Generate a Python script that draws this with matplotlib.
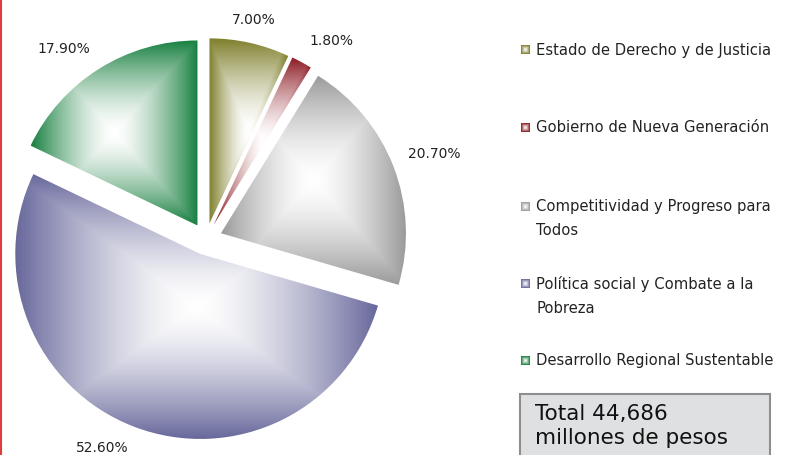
import numpy as np
import matplotlib
matplotlib.use('Agg')
import matplotlib.pyplot as plt
from matplotlib.colors import to_rgb
from matplotlib.patches import Rectangle

categories = [
    'Estado de Derecho y de Justicia',
    'Gobierno de Nueva Generación',
    'Competitividad y Progreso para\nTodos',
    'Política social y Combate a la\nPobreza',
    'Desarrollo Regional Sustentable',
]
values = [7.0, 1.8, 20.7, 52.6, 17.9]
colors = ['#7f7f2c', '#8c1a22', '#9a9a9a', '#68689c', '#188040']
total_text = 'Total 44,686\nmillones de pesos'

W, H = 795, 455


def gradient_image(base, n=200, power=1.5):
    # rectangular "path" gradient: white in the middle, base colour at the edges
    g = np.linspace(-1, 1, n)
    u, v = np.meshgrid(g, g)
    t = np.maximum(np.abs(u), np.abs(v)) ** power
    c = np.array(to_rgb(base))
    img = 1 - t[..., None] * (1 - c[None, None, :])
    return img


fig = plt.figure(figsize=(W / 100, H / 100), dpi=100)
ax = fig.add_axes([0, 0, 1, 1])

wedges, texts, autotexts = ax.pie(
    values,
    explode=[16] * len(values),
    center=(206, 216),
    radius=185,
    startangle=90,
    counterclock=False,
    colors=colors,
    autopct='%.2f%%',
    pctdistance=1.085,
    frame=True,
    wedgeprops=dict(linewidth=0),
    textprops=dict(fontsize=10, color='#222222'),
)

for w, col in zip(wedges, colors):
    ext = w.get_path().get_extents()
    im = ax.imshow(gradient_image(col), extent=(ext.x0, ext.x1, ext.y0, ext.y1),
                   origin='lower', interpolation='bilinear', zorder=w.get_zorder())
    im.set_clip_path(w)
    w.set_facecolor('none')

# outside-end labels: anchor the box corner nearest to the slice
for w, t in zip(wedges, autotexts):
    x, y = t.get_position()
    cx, cy = w.center
    ang = np.arctan2(y - cy, x - cx)
    c, s = np.cos(ang), np.sin(ang)
    t.set_ha('left' if c > 0.3 else ('right' if c < -0.3 else 'center'))
    t.set_va('bottom' if s > 0.3 else ('top' if s < -0.3 else 'center'))

# legend drawn by hand
leg_y = [405, 327, 248, 171, 94]
for label, col, ly in zip(categories, colors, leg_y):
    ax.imshow(gradient_image(col, n=20, power=1.2), extent=(520.5, 529, ly - 4.5, ly + 4),
              origin='lower', interpolation='bilinear')
    ax.text(536, ly + 7.5, label, fontsize=10.6, color='#222222', ha='left', va='top',
            linespacing=1.7)

# total box
ax.add_patch(Rectangle((520, -10), 250, 71, facecolor='#dfe0e2', edgecolor='#8e8e8e', linewidth=1.5))
ax.text(535, 51, total_text, fontsize=15.5, color='#111111', ha='left', va='top', linespacing=1.25)

# red rule on the left edge
ax.axvline(0.6, color='#e03c3c', linewidth=1.5)

ax.set_xlim(0, W)
ax.set_ylim(0, H)
ax.set_aspect('auto')
ax.axis('off')

fig.savefig('out.png', dpi=100)
